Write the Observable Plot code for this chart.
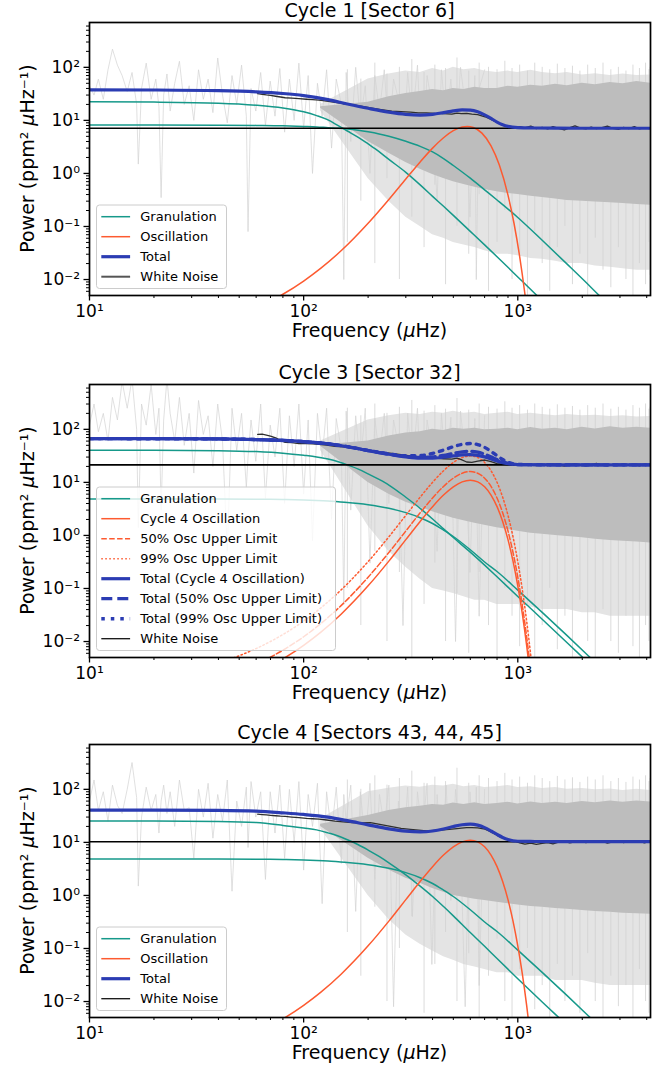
<!DOCTYPE html>
<html>
<head>
<meta charset="utf-8">
<script src="https://cdn.jsdelivr.net/npm/d3@7"></script>
<script src="https://cdn.jsdelivr.net/npm/@observablehq/plot@0.6"></script>
<style>
  body { margin: 0; background: #ffffff; }
  #chart { width: 668px; }
  #chart svg { display: block; }
</style>
</head>
<body>
<div id="chart"></div>
<script>
// ---------------- DATA ----------------
const titles = ["Cycle 1 [Sector 6]", "Cycle 3 [Sector 32]", "Cycle 4 [Sectors 43, 44, 45]"];
const xMajor = [10, 100, 1000];
const xTickLabels = ["10¹", "10²", "10³"];
const yMajor = [0.01, 0.1, 1, 10, 100];
const yTickLabels = ["10⁻²", "10⁻¹", "10⁰", "10¹", "10²"];
const xMinor = [20, 30, 40, 50, 60, 70, 80, 90, 200, 300, 400, 500, 600, 700, 800, 900, 2000, 3000, 4000];
const yMinor = [0.006, 0.007, 0.008, 0.009, 0.02, 0.03, 0.04, 0.05, 0.06, 0.07, 0.08, 0.09,
  0.2, 0.3, 0.4, 0.5, 0.6, 0.7, 0.8, 0.9, 2, 3, 4, 5, 6, 7, 8, 9,
  20, 30, 40, 50, 60, 70, 80, 90, 200, 300, 400, 500, 600];
const xDomain = [10, 4166];
const yDomain = [0.005, 700];

const whiteNoise = [7.1, 21.4, 10.3];

// granulation components (frequency grid in µHz)
const granF = [10, 20, 40, 60, 80, 100, 115, 130, 145, 160, 180, 200, 225, 250, 300, 350, 400, 450, 500, 600, 700, 800, 1000, 1300, 1700, 2200, 3000];
const gran1P1 = [22.4, 22.1, 21.1, 19.3, 17.1, 14.5, 12.3, 10.2, 7.94, 6.31, 4.79, 3.59, 2.57, 1.84, 1.05, 0.61, 0.37, 0.24, 0.162, 0.081, 0.045, 0.0269, 0.0112, 0.0040, 0.0014, 0.0005, 0.00016];
const gran2P1 = [8.17, 8.17, 8.13, 8.05, 7.93, 7.69, 7.52, 7.29, 7.11, 6.90, 6.53, 6.10, 5.56, 5.01, 4.03, 3.24, 2.54, 1.91, 1.41, 0.813, 0.49, 0.316, 0.148, 0.055, 0.0195, 0.0071, 0.0020];
const gran1P2 = [40.4, 40.3, 39.6, 38.0, 35.5, 32.4, 30.2, 27.5, 24.5, 21.4, 17.8, 14.5, 11.35, 8.91, 5.25, 3.24, 2.04, 1.33, 0.912, 0.484, 0.275, 0.166, 0.0708, 0.0263, 0.0095, 0.00355, 0.0011];
const gran2P2 = [4.86, 4.86, 4.85, 4.82, 4.76, 4.66, 4.57, 4.46, 4.32, 4.19, 3.99, 3.78, 3.51, 3.24, 2.69, 2.16, 1.68, 1.26, 0.955, 0.537, 0.316, 0.209, 0.0933, 0.0355, 0.0129, 0.0048, 0.00145];
const gran1P3 = [25.4, 25.3, 24.8, 23.6, 20.9, 18.6, 17.2, 15.1, 13.2, 11.2, 9.02, 7.16, 5.43, 4.12, 2.45, 1.50, 0.955, 0.617, 0.412, 0.20, 0.11, 0.0646, 0.0269, 0.0098, 0.00355, 0.0013, 0.0004];
const gran2P3 = [4.86, 4.86, 4.85, 4.82, 4.76, 4.66, 4.57, 4.46, 4.32, 4.19, 3.99, 3.78, 3.51, 3.24, 2.69, 2.16, 1.68, 1.26, 0.955, 0.537, 0.316, 0.209, 0.0933, 0.0355, 0.0129, 0.0048, 0.00145];

// oscillation components
const oscF1 = [60, 70, 80, 100, 120, 150, 200, 250, 300, 350, 400, 450, 500, 550, 580, 620, 680, 750, 820, 900, 960, 1020, 1080, 1120];
const oscP1 = [0.00292, 0.00394, 0.00528, 0.00936, 0.0162, 0.0352, 0.115, 0.323, 0.785, 1.65, 3.0, 4.71, 6.39, 7.50, 7.70, 7.35, 5.75, 3.32, 1.44, 0.39, 0.115, 0.0274, 0.00528, 0.0016];
const oscF2 = [40, 50, 60, 70, 80, 100, 120, 150, 200, 250, 300, 350, 400, 450, 500, 550, 600, 650, 700, 750, 800, 850, 900, 950, 1000, 1050, 1100, 1150, 1200];
const oscCycle4P2 = [0.00137, 0.00188, 0.00257, 0.00349, 0.00471, 0.00847, 0.01485, 0.0331, 0.112, 0.328, 0.833, 1.833, 3.49, 5.77, 8.26, 10.24, 11.0, 10.24, 8.26, 5.77, 3.49, 1.833, 0.833, 0.328, 0.112, 0.0331, 0.00847, 0.00188, 0.00036];
const osc50P2 = [0.00199, 0.00273, 0.00373, 0.00507, 0.00685, 0.0123, 0.0216, 0.0481, 0.163, 0.477, 1.211, 2.666, 5.08, 8.39, 12.01, 14.89, 16.0, 14.89, 12.01, 8.39, 5.08, 2.666, 1.211, 0.477, 0.163, 0.0481, 0.0123, 0.00273, 0.00052];
const osc99P2 = [0.00392, 0.00539, 0.00737, 0.01002, 0.01354, 0.0243, 0.0427, 0.095, 0.321, 0.942, 2.392, 5.265, 10.03, 16.57, 23.72, 29.41, 31.6, 29.41, 23.72, 16.57, 10.03, 5.265, 2.392, 0.942, 0.321, 0.095, 0.0243, 0.00539, 0.00104];
const oscP3 = [0.00137, 0.00188, 0.00257, 0.00349, 0.00471, 0.00847, 0.01485, 0.0331, 0.112, 0.328, 0.833, 1.833, 3.49, 5.77, 8.26, 10.24, 11.0, 10.24, 8.26, 5.77, 3.49, 1.833, 0.833, 0.328, 0.112, 0.0331, 0.00847, 0.00188, 0.00036];

// total models
const totalF = [10, 20, 40, 60, 80, 100, 130, 160, 200, 250, 300, 350, 400, 450, 500, 550, 600, 650, 700, 750, 800, 850, 900, 1000, 1200, 1500, 2000, 3000, 4166];
const totalP1 = [37.7, 37.4, 36.3, 34.5, 32.1, 29.3, 24.6, 20.4, 16.9, 14.3, 13.0, 12.6, 13.0, 14.0, 15.1, 15.8, 15.6, 14.5, 12.7, 10.9, 9.3, 8.3, 7.7, 7.3, 7.18, 7.13, 7.11, 7.10, 7.10];
const totalP2 = [66.7, 66.6, 65.9, 64.2, 61.7, 58.5, 53.4, 47.0, 39.8, 33.9, 30.2, 28.6, 28.6, 29.8, 31.5, 33.0, 33.4, 32.4, 30.3, 27.6, 25.3, 23.5, 22.5, 21.7, 21.5, 21.44, 21.41, 21.4, 21.4];
const total50P2 = [66.7, 66.6, 65.9, 64.2, 61.7, 58.5, 53.4, 47.1, 39.8, 34.0, 30.6, 29.5, 30.2, 32.4, 35.3, 37.7, 38.4, 37.1, 34.0, 30.3, 26.9, 24.4, 22.9, 21.7, 21.5, 21.44, 21.41, 21.4, 21.4];
const total99P2 = [66.7, 66.6, 65.9, 64.2, 61.7, 58.5, 53.4, 47.1, 40.0, 34.5, 31.7, 32.1, 35.2, 40.6, 47.0, 52.2, 54.0, 51.6, 45.7, 38.4, 31.8, 27.0, 24.0, 21.9, 21.5, 21.44, 21.41, 21.4, 21.4];
const totalP3 = [40.6, 40.5, 40.0, 38.7, 36.0, 33.6, 29.9, 25.7, 21.4, 18.0, 16.3, 15.8, 16.4, 17.9, 19.9, 21.5, 22.0, 21.1, 19.0, 16.4, 14.1, 12.4, 11.3, 10.5, 10.4, 10.33, 10.31, 10.3, 10.3];

// smoothed power spectrum (dark line)
const smoothF = [61, 64, 67, 70, 74, 78, 82, 88, 95, 103, 110, 118, 128, 140, 153, 168, 185, 205, 230, 258, 285, 315, 344, 375, 411, 450, 492, 520, 545, 577, 610, 650, 703, 750, 800, 840, 900, 969, 1020, 1080, 1150, 1220, 1300, 1380, 1460, 1550, 1650, 1750, 1850, 1950, 2080, 2200, 2330, 2470, 2620, 2780, 2950, 3120, 3300, 3500, 3700, 3900, 4100, 4166];
const smoothP1 = [32, 31, 30.2, 29.6, 28.5, 27.6, 26.7, 26.2, 25.6, 25, 24.6, 24, 23, 21.8, 20.6, 19.9, 18.5, 17.2, 16, 15, 14.6, 14.3, 13.9, 13.9, 13.5, 13.4, 13.1, 13.7, 13.4, 13.6, 13.1, 12.8, 11.7, 10.4, 9.2, 8.2, 7.6, 7.3, 7.6, 7.2, 7.8, 7.0, 7.4, 6.9, 7.6, 7.1, 6.6, 7.3, 7.9, 7.2, 6.9, 7.5, 7.0, 7.3, 7.8, 7.1, 6.8, 7.4, 7.0, 7.6, 6.9, 7.3, 7.0, 7.1];
const smoothP2 = [80, 81, 78, 74.8, 69, 62, 57, 56, 54, 53.6, 53, 52.3, 50.5, 48, 46.5, 45.2, 42, 39.5, 37.2, 35.2, 33.3, 31.6, 30.2, 29.5, 28.6, 27.9, 27.4, 28.6, 26.8, 24.2, 23.8, 25.2, 26.4, 24.5, 22.6, 22, 21.7, 21.3, 22.3, 21.0, 22.0, 20.6, 21.8, 20.8, 22.4, 21.2, 20.3, 21.6, 22.5, 21.0, 20.4, 21.7, 22.8, 21.1, 20.6, 21.9, 21.0, 22.5, 21.2, 21.6, 20.5, 22.0, 21.3, 21.5];
const smoothP3 = [34, 33.5, 33, 32.4, 31.8, 31.2, 30.8, 30, 29.2, 28.3, 27.9, 27.4, 26.4, 25.2, 24.4, 23.7, 23.4, 23.6, 21.6, 19.9, 18.4, 17.6, 17.0, 16.5, 16.9, 17.2, 17.8, 18.2, 18.5, 18.9, 19.0, 18.8, 17.8, 15.8, 13.6, 12.4, 11.2, 10.7, 9.8, 9.3, 9.7, 9.2, 9.6, 9.9, 9.4, 10.1, 10.4, 9.8, 10.2, 10.6, 9.9, 10.3, 10.0, 10.5, 9.7, 10.2, 10.6, 9.9, 10.4, 10.1, 10.6, 9.8, 10.3, 10.4];

// raw power spectrum: sparse low-frequency trace
const noiseF = [10, 10.5, 11, 11.6, 12.2, 12.8, 13.5, 14.2, 15, 15.8, 16.6, 16.9, 17.5, 18.4, 19.4, 20.4, 21.1, 21.6, 22.2, 23, 23.8, 25, 26.3, 27.7, 29.2, 30.7, 32.3, 34, 35.8, 37.7, 39.7, 41.8, 44, 46.3, 48.7, 51.3, 54, 55, 56.8, 59.8, 63, 66.3, 69.8, 73.5, 77.4, 81.5, 85.8, 90.3, 95, 100, 105, 110, 116, 122, 128, 135, 142, 150, 154, 158, 166, 175, 184, 194, 204, 215, 226, 238, 250, 263, 277, 291, 306, 322, 340, 358, 377, 397, 420, 440, 463, 487, 512, 540, 568, 598, 630, 640, 660, 700];
const noiseP1 = [45, 30, 60, 25, 90, 220, 110, 70, 35, 80, 20, 1.5, 40, 120, 25, 60, 18, 0.35, 30, 75, 15, 50, 130, 20, 45, 10, 90, 25, 60, 14, 150, 30, 9, 70, 20, 110, 12, 0.08, 40, 15, 80, 8, 55, 12, 95, 6, 60, 10, 120, 7, 70, 1, 50, 12, 90, 3, 60, 20, 0.01, 80, 4, 100, 10, 45, 1, 70, 15, 90, 5, 60, 25, 2, 80, 10, 110, 1.5, 70, 20, 0.3, 90, 8, 60, 3, 100, 20, 0.15, 70, 0.01, 40, 90];
const noiseP2 = [120, 300, 90, 200, 60, 400, 150, 800, 250, 900, 100, 1.4, 300, 120, 700, 80, 250, 3, 150, 900, 200, 60, 400, 50, 200, 15, 350, 80, 180, 20, 300, 60, 0.5, 250, 40, 200, 8, 30, 150, 25, 300, 5, 120, 30, 250, 4, 180, 20, 300, 6, 150, 0.8, 200, 30, 250, 2, 160, 40, 0.05, 220, 3, 180, 20, 250, 0.3, 160, 30, 200, 4, 150, 50, 0.02, 200, 20, 250, 2, 150, 40, 0.5, 200, 15, 170, 0.01, 220, 30, 0.2, 160, 10, 0.03, 180];
const noiseP3 = [60, 150, 40, 90, 25, 120, 50, 35, 100, 320, 70, 1.5, 30, 110, 40, 80, 15, 60, 120, 35, 90, 20, 150, 40, 45, 5, 100, 30, 130, 12, 80, 25, 150, 1.2, 60, 20, 110, 8, 140, 30, 90, 2, 90, 15, 120, 5, 100, 10, 140, 3, 80, 20, 130, 0.7, 90, 15, 110, 4, 80, 25, 120, 0.5, 90, 10, 130, 2, 80, 20, 120, 0.008, 60, 5, 110, 0.4, 90, 15, 130, 0.05, 80, 4, 120, 0.8, 100, 10, 0.008, 90, 3, 110, 0.02, 100];

// raw power spectrum: dense high-frequency envelope
const bandF = [120, 200, 250, 300, 350, 400, 450, 500, 560, 630, 700, 800, 900, 1000, 1150, 1300, 1500, 1700, 2000, 2300, 2700, 3100, 3600, 4166];
const lightHi1 = [20, 60, 75, 85, 80, 95, 85, 100, 90, 95, 85, 80, 85, 80, 88, 80, 76, 80, 72, 76, 70, 75, 70, 72];
const lightLo1 = [15, 0.8, 0.3, 0.15, 0.1, 0.07, 0.06, 0.05, 0.045, 0.04, 0.035, 0.03, 0.03, 0.028, 0.025, 0.024, 0.022, 0.02, 0.02, 0.018, 0.017, 0.016, 0.015, 0.015];
const darkHi1 = [18, 22, 28, 32, 35, 38, 36, 40, 38, 42, 40, 40, 44, 42, 46, 44, 48, 45, 50, 47, 52, 49, 54, 50];
const darkLo1 = [17, 4, 2.4, 1.6, 1.2, 0.95, 0.8, 0.7, 0.62, 0.55, 0.5, 0.45, 0.42, 0.4, 0.37, 0.35, 0.33, 0.31, 0.3, 0.29, 0.28, 0.27, 0.26, 0.25];
const lightHi2 = [60, 150, 180, 200, 190, 210, 200, 220, 200, 210, 190, 200, 210, 190, 200, 190, 180, 190, 180, 185, 175, 180, 170, 175];
const lightLo2 = [40, 1.5, 0.5, 0.25, 0.15, 0.1, 0.09, 0.08, 0.07, 0.06, 0.06, 0.05, 0.05, 0.05, 0.045, 0.04, 0.04, 0.04, 0.035, 0.035, 0.03, 0.03, 0.03, 0.03];
const darkHi2 = [50, 60, 75, 85, 90, 100, 95, 105, 100, 105, 98, 100, 105, 98, 108, 100, 105, 98, 110, 102, 112, 105, 110, 105];
const darkLo2 = [48, 10, 6, 4.2, 3.4, 2.8, 2.4, 2.1, 1.9, 1.7, 1.55, 1.4, 1.3, 1.2, 1.1, 1.05, 1.0, 0.95, 0.9, 0.85, 0.8, 0.78, 0.75, 0.72];
const lightHi3 = [28, 90, 105, 115, 110, 120, 115, 125, 112, 118, 108, 112, 118, 108, 112, 104, 108, 100, 104, 98, 102, 95, 100, 95];
const lightLo3 = [18, 1.0, 0.35, 0.18, 0.12, 0.09, 0.07, 0.06, 0.05, 0.045, 0.04, 0.035, 0.035, 0.03, 0.03, 0.03, 0.025, 0.025, 0.025, 0.022, 0.02, 0.02, 0.02, 0.02];
const darkHi3 = [22, 32, 40, 45, 48, 52, 50, 55, 52, 56, 52, 54, 57, 53, 58, 54, 57, 54, 59, 56, 60, 57, 60, 58];
const darkLo3 = [20, 5, 3, 2.1, 1.7, 1.35, 1.15, 1.0, 0.92, 0.85, 0.8, 0.74, 0.7, 0.66, 0.62, 0.6, 0.57, 0.55, 0.52, 0.5, 0.48, 0.46, 0.45, 0.44];

// individual spikes of the raw spectrum (low and high ends)
const spikeF = [160, 185, 215, 245, 280, 320, 365, 410, 460, 520, 590, 660, 730, 800, 870, 940, 1020, 1110, 1200, 1300, 1410, 1530, 1660, 1800, 1950, 2120, 2300, 2500, 2720, 2950, 3200, 3450, 3700, 3950, 4100, 4150];
const spikeLo1 = [0.05, 0.3, 0.02, 0.8, 0.01, 0.15, 0.04, 0.6, 0.008, 0.1, 0.03, 0.4, 0.006, 0.05, 0.2, 0.01, 0.03, 0.005, 0.08, 0.02, 0.006, 0.04, 0.1, 0.008, 0.03, 0.005, 0.06, 0.015, 0.007, 0.04, 0.01, 0.005, 0.02, 0.008, 0.05, 0.012];
const spikeHi1 = [90, 60, 120, 75, 100, 140, 80, 110, 95, 150, 85, 120, 100, 90, 130, 95, 110, 85, 120, 100, 90, 115, 95, 105, 85, 110, 95, 120, 90, 100, 85, 110, 95, 120, 90, 100];
const spikeLo2 = [0.1, 0.02, 0.5, 0.01, 0.2, 0.005, 0.05, 0.3, 0.01, 0.08, 0.006, 0.2, 0.02, 0.005, 0.1, 0.03, 0.008, 0.05, 0.005, 0.02, 0.1, 0.007, 0.03, 0.005, 0.06, 0.01, 0.005, 0.04, 0.01, 0.006, 0.03, 0.008, 0.005, 0.02, 0.01, 0.006];
const spikeHi2 = [250, 180, 300, 200, 260, 350, 220, 280, 240, 380, 230, 300, 260, 240, 330, 250, 280, 230, 300, 260, 240, 290, 250, 270, 230, 280, 250, 300, 240, 260, 230, 280, 250, 300, 240, 260];
const spikeLo3 = [0.2, 0.03, 0.6, 0.01, 0.1, 0.4, 0.006, 0.05, 0.2, 0.01, 0.08, 0.005, 0.03, 0.15, 0.01, 0.005, 0.04, 0.1, 0.007, 0.02, 0.005, 0.05, 0.01, 0.03, 0.006, 0.08, 0.01, 0.005, 0.03, 0.008, 0.02, 0.005, 0.04, 0.01, 0.006, 0.02];
const spikeHi3 = [150, 100, 180, 120, 160, 220, 130, 170, 140, 250, 130, 180, 160, 140, 200, 150, 170, 130, 180, 160, 140, 175, 150, 165, 135, 170, 150, 180, 140, 160, 135, 170, 150, 180, 140, 160];

const legendLabels1 = ["Granulation", "Oscillation", "Total", "White Noise"];
const legendLabels2 = ["Granulation", "Cycle 4 Oscillation", "50% Osc Upper Limit", "99% Osc Upper Limit",
  "Total (Cycle 4 Oscillation)", "Total (50% Osc Upper Limit)", "Total (99% Osc Upper Limit)", "White Noise"];
const legendLabels3 = ["Granulation", "Oscillation", "Total", "White Noise"];

// ---------------- STYLE ----------------
const TEAL = "#16998a", ORANGE = "#fd5a30", BLUE = "#2b3cb3";
const FONT = "DejaVu Sans, Liberation Sans, sans-serif";
const ST = {
  gran: {stroke: TEAL, w: 1.5},
  osc: {stroke: ORANGE, w: 1.5},
  osc50: {stroke: ORANGE, w: 1.5, dash: "5.5,2.4"},
  osc99: {stroke: ORANGE, w: 1.5, dash: "1.5,2.5"},
  tot: {stroke: BLUE, w: 3.2},
  tot50: {stroke: BLUE, w: 3.2, dash: "11,5"},
  tot99: {stroke: BLUE, w: 3.4, dash: "3.5,6"},
  wnGray: {stroke: "#555555", w: 2},
  wnBlack: {stroke: "#111111", w: 1.3}
};

const zip = (xs, ys) => xs.map((f, i) => ({f, p: ys[i]}));
const band = (xs, lo, hi) => xs.map((f, i) => ({f, lo: lo[i], hi: hi[i]}));

function panel(cfg) {
  const W = 668, mL = 89, mR = 18, mT = 22, plotH = 273;
  const H = cfg.height;
  const line = (xs, ys, st) => Plot.line(zip(xs, ys), {
    x: "f", y: "p", stroke: st.stroke, strokeWidth: st.w,
    strokeDasharray: st.dash || null, curve: "monotone-x", clip: true
  });
  const marks = [
    Plot.areaY(band(bandF, cfg.lightLo, cfg.lightHi), {x: "f", y1: "lo", y2: "hi", fill: "#e4e4e4", clip: true}),
    Plot.ruleX(band(spikeF, cfg.spikeLo, cfg.spikeHi), {x: "f", y1: "lo", y2: "hi", stroke: "#d2d2d2", strokeWidth: 0.8, clip: true}),
    Plot.line(zip(noiseF, cfg.noiseP), {x: "f", y: "p", stroke: "#d2d2d2", strokeWidth: 0.7, clip: true}),
    Plot.areaY(band(bandF, cfg.darkLo, cfg.darkHi), {x: "f", y1: "lo", y2: "hi", fill: "#bdbdbd", clip: true}),
    line(granF, cfg.gran1, ST.gran),
    line(granF, cfg.gran2, ST.gran),
    ...cfg.oscs.map(o => line(o.f, o.p, o.st)),
    Plot.line(zip(smoothF, cfg.smoothP), {x: "f", y: "p", stroke: "#2e2e2e", strokeWidth: 1.3, clip: true}),
    Plot.ruleY([cfg.wn], {stroke: "#000000", strokeWidth: 1.6}),
    ...cfg.totals.map(t => line(totalF, t.p, t.st)),
    Plot.frame({stroke: "#000000", strokeWidth: 1.7}),
    Plot.axisX({ticks: xMinor, tickSize: 3, tickFormat: () => "", strokeWidth: 1, label: null}),
    Plot.axisX({ticks: xMajor, tickSize: 5.5, tickPadding: 4, strokeWidth: 1.3, label: null,
      tickFormat: d => xTickLabels[xMajor.indexOf(d)], fontSize: 17}),
    Plot.axisY({ticks: yMinor, tickSize: 3, tickFormat: () => "", strokeWidth: 1, label: null}),
    Plot.axisY({ticks: yMajor, tickSize: 5.5, tickPadding: 4, strokeWidth: 1.3, label: null,
      tickFormat: d => yTickLabels[yMajor.indexOf(d)], fontSize: 17})
  ];
  const svg = Plot.plot({
    width: W, height: H,
    marginLeft: mL, marginRight: mR, marginTop: mT, marginBottom: H - mT - plotH,
    x: {type: "log", domain: xDomain},
    y: {type: "log", domain: yDomain},
    style: {fontFamily: FONT, fontSize: "16px", background: "#ffffff", color: "#000000"},
    marks
  });
  const s = d3.select(svg);
  const cx = mL + (W - mL - mR) / 2;
  const bottom = mT + plotH;
  s.append("text").attr("x", cx).attr("y", 17).attr("text-anchor", "middle")
    .style("font-family", FONT).style("font-size", "19px").attr("fill", "#000").text(cfg.title);
  const xl = s.append("text").attr("x", cx).attr("y", bottom + 42).attr("text-anchor", "middle")
    .style("font-family", FONT).style("font-size", "19px").attr("fill", "#000");
  xl.append("tspan").text("Frequency (");
  xl.append("tspan").style("font-style", "italic").text("μ");
  xl.append("tspan").text("Hz)");
  const yl = s.append("text").attr("transform", `translate(34,${mT + plotH / 2}) rotate(-90)`)
    .attr("text-anchor", "middle").style("font-family", FONT).style("font-size", "19px").attr("fill", "#000");
  yl.append("tspan").text("Power (ppm² ");
  yl.append("tspan").style("font-style", "italic").text("μ");
  yl.append("tspan").text("Hz⁻¹)");
  // legend
  const n = cfg.legendLabels.length;
  const bh = 20 * (n - 1) + 23.5;
  const bx = mL + 7.5, by = bottom - 6.5 - bh;
  const g = s.append("g").attr("text-anchor", "start");
  g.append("rect").attr("x", bx).attr("y", by).attr("width", cfg.legendWidth).attr("height", bh)
    .attr("rx", 3).attr("fill", "#ffffff").attr("fill-opacity", 0.8).attr("stroke", "#cccccc").attr("stroke-width", 1);
  cfg.legendLabels.forEach((lab, i) => {
    const y = by + 11.7 + 20 * i;
    const st = cfg.legendStyles[i];
    g.append("line").attr("x1", bx + 4.8).attr("x2", bx + 33.6).attr("y1", y).attr("y2", y)
      .attr("stroke", st.stroke).attr("stroke-width", st.w).attr("stroke-dasharray", st.dash || null);
    g.append("text").attr("x", bx + 43.8).attr("y", y).attr("dy", "0.36em").attr("text-anchor", "start")
      .style("font-family", FONT).style("font-size", "13px").attr("fill", "#000").text(lab);
  });
  return svg;
}

const chart = document.getElementById("chart");
chart.appendChild(panel({
  title: titles[0], height: 362, wn: whiteNoise[0],
  gran1: gran1P1, gran2: gran2P1,
  oscs: [{f: oscF1, p: oscP1, st: ST.osc}],
  totals: [{p: totalP1, st: ST.tot}],
  smoothP: smoothP1, noiseP: noiseP1, spikeLo: spikeLo1, spikeHi: spikeHi1,
  lightLo: lightLo1, lightHi: lightHi1, darkLo: darkLo1, darkHi: darkHi1,
  legendLabels: legendLabels1, legendWidth: 130,
  legendStyles: [ST.gran, ST.osc, ST.tot, ST.wnGray]
}));
chart.appendChild(panel({
  title: titles[1], height: 360, wn: whiteNoise[1],
  gran1: gran1P2, gran2: gran2P2,
  oscs: [{f: oscF2, p: oscCycle4P2, st: ST.osc}, {f: oscF2, p: osc50P2, st: ST.osc50}, {f: oscF2, p: osc99P2, st: ST.osc99}],
  totals: [{p: totalP2, st: ST.tot}, {p: total50P2, st: ST.tot50}, {p: total99P2, st: ST.tot99}],
  smoothP: smoothP2, noiseP: noiseP2, spikeLo: spikeLo2, spikeHi: spikeHi2,
  lightLo: lightLo2, lightHi: lightHi2, darkLo: darkLo2, darkHi: darkHi2,
  legendLabels: legendLabels2, legendWidth: 239,
  legendStyles: [ST.gran, ST.osc, ST.osc50, ST.osc99, ST.tot, ST.tot50, ST.tot99, ST.wnBlack]
}));
chart.appendChild(panel({
  title: titles[2], height: 350, wn: whiteNoise[2],
  gran1: gran1P3, gran2: gran2P3,
  oscs: [{f: oscF2, p: oscP3, st: ST.osc}],
  totals: [{p: totalP3, st: ST.tot}],
  smoothP: smoothP3, noiseP: noiseP3, spikeLo: spikeLo3, spikeHi: spikeHi3,
  lightLo: lightLo3, lightHi: lightHi3, darkLo: darkLo3, darkHi: darkHi3,
  legendLabels: legendLabels3, legendWidth: 130,
  legendStyles: [ST.gran, ST.osc, ST.tot, ST.wnBlack]
}));
</script>
</body>
</html>
